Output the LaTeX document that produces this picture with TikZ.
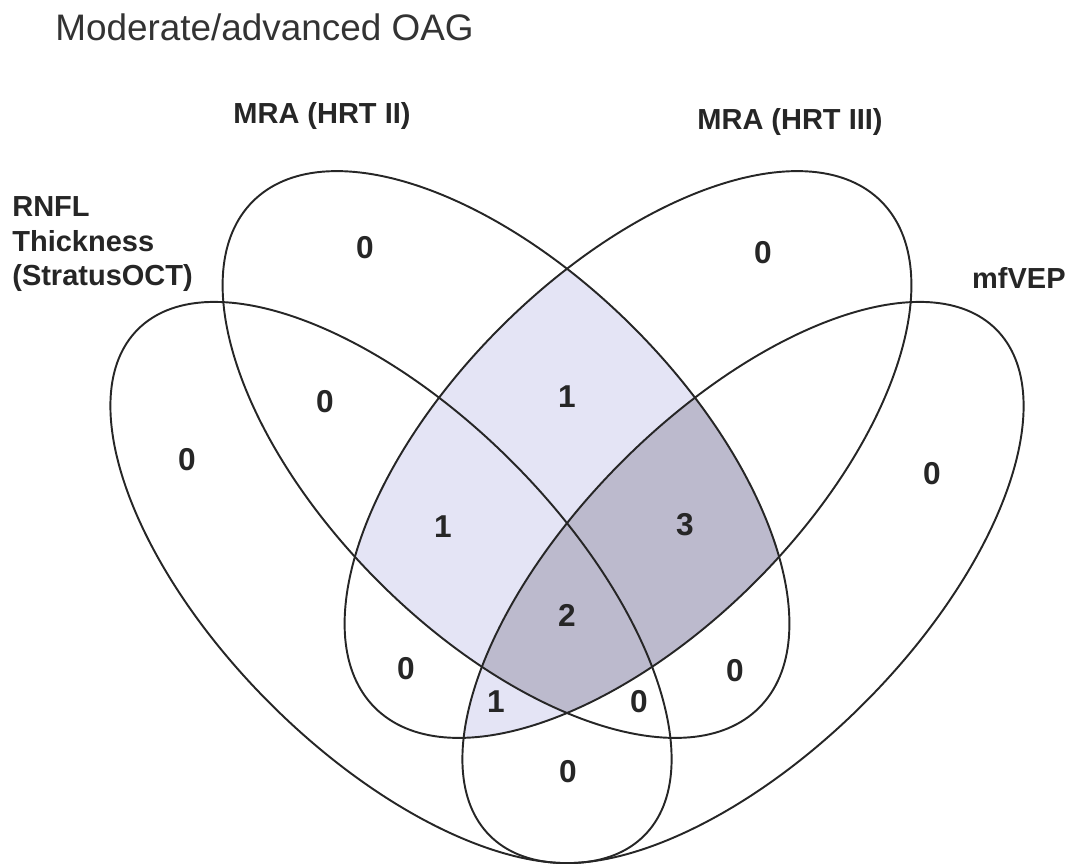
\documentclass[tikz,border=0pt]{standalone}
\usepackage{fontspec}
\setmainfont{Liberation Sans}
\usetikzlibrary{positioning}
\definecolor{lightlav}{RGB}{228,228,245}
\definecolor{darklav}{RGB}{188,186,205}

\begin{document}
\begin{tikzpicture}[x=0.02cm,y=-0.02cm,
    venn/.style={line width=1.1pt, draw=black!85},
    setA/.style={rotate around={-45:(c1)}},
    setB/.style={rotate around={-45:(c2)}},
    setC/.style={rotate around={45:(c3)}},
    setD/.style={rotate around={45:(c4)}},
    count/.style={inner sep=0pt, font=\bfseries\fontsize{18}{21}\selectfont, text=black!85},
    setlabel/.style={inner sep=0pt, font=\bfseries\fontsize{16.5}{19.8}\selectfont, text=black!85}]
            \def\a{358}
            \def\bo{171}
            \def\bi{180}
            \useasboundingbox (0,0) rectangle (1074,863);
            \coordinate (c1) at (391,582.5);
            \coordinate (c2) at (506,454.5);
            \coordinate (c3) at (628,454.5);
            \coordinate (c4) at (743,582.5);
            %Shade
            \begin{scope}
                \clip[setB] (c2) ellipse [x radius=\a, y radius=\bi];
                \fill[lightlav, setC] (c3) ellipse [x radius=\a, y radius=\bi];
            \end{scope}
            \begin{scope}
                \clip[setA] (c1) ellipse [x radius=\a, y radius=\bo];
                \clip[setD] (c4) ellipse [x radius=\a, y radius=\bo];
                \fill[lightlav, setC] (c3) ellipse [x radius=\a, y radius=\bi];
            \end{scope}
            \begin{scope}
                \clip[setB] (c2) ellipse [x radius=\a, y radius=\bi];
                \clip[setC] (c3) ellipse [x radius=\a, y radius=\bi];
                \fill[darklav, setD] (c4) ellipse [x radius=\a, y radius=\bo];
            \end{scope}
            %Draw sets
            \draw[venn, setA] (c1) ellipse [x radius=\a, y radius=\bo];
            \draw[venn, setB] (c2) ellipse [x radius=\a, y radius=\bi];
            \draw[venn, setC] (c3) ellipse [x radius=\a, y radius=\bi];
            \draw[venn, setD] (c4) ellipse [x radius=\a, y radius=\bo];
            %Labels
            \node[anchor=base west, inner sep=0pt, font=\fontsize{21}{25}\selectfont, text=black!80] (title) at (55,40) {Moderate/advanced OAG};
            \node[setlabel, anchor=base] (lab2) at (322,123) {MRA (HRT II)};
            \node[setlabel, anchor=base] (lab3) at (790,129) {MRA (HRT III)};
            \node[setlabel, anchor=north west, align=left] (lab1) at (12,196) {RNFL\\Thickness\\(StratusOCT)};
            \node[setlabel, anchor=base east] (lab4) at (1066,288) {mfVEP};
            %Counts
            \node[count] (n1) at (365,248) {0};
            \node[count] (n2) at (763,253) {0};
            \node[count] (n3) at (325,402) {0};
            \node[count] (n4) at (567,397) {1};
            \node[count] (n5) at (187,460) {0};
            \node[count] (n6) at (443,527) {1};
            \node[count] (n7) at (685,525) {3};
            \node[count] (n8) at (932,474) {0};
            \node[count] (n9) at (567,615) {2};
            \node[count] (n10) at (406,669) {0};
            \node[count] (n11) at (496,702) {1};
            \node[count] (n12) at (639,702) {0};
            \node[count] (n13) at (735,671) {0};
            \node[count] (n14) at (568,772) {0};
        \end{tikzpicture}
\end{document}
